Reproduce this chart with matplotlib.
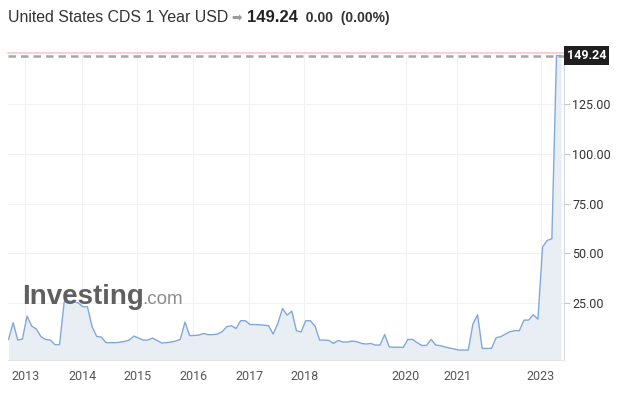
import numpy as np
import matplotlib
matplotlib.use("Agg")
import matplotlib.pyplot as plt

# CDS 1 year, one value per data point (the chart spaces points evenly)
cds = [6.8, 15.2, 6.5, 7.0, 18.5, 13.5, 12.0, 8.2, 6.8, 6.5,
       4.2, 4.2, 25.7, 26.2, 25.7, 25.2, 23.2, 23.2, 13.2, 8.3,
       8.0, 5.2, 5.2, 5.2, 5.4, 5.8, 6.5, 8.5, 7.5, 6.5,
       6.5, 7.5, 6.3, 5.0, 5.2, 5.5, 6.0, 6.8, 15.5, 8.7,
       8.8, 9.0, 9.8, 9.2, 9.2, 9.5, 10.7, 13.2, 13.7, 12.3,
       16.2, 16.2, 14.3, 14.3, 14.2, 14.0, 13.7, 9.5, 14.8, 22.3,
       19.0, 21.0, 11.2, 10.5, 16.2, 16.2, 13.5, 6.5, 6.5, 6.3,
       4.8, 6.3, 5.5, 5.5, 6.0, 5.7, 4.8, 4.5, 4.8, 4.0,
       4.0, 9.3, 3.0, 2.9, 2.9, 2.8, 6.8, 6.8, 5.2, 3.8,
       3.8, 6.8, 4.0, 3.7, 3.0, 2.5, 2.0, 1.5, 1.5, 1.5,
       14.5, 19.2, 2.3, 2.3, 2.3, 7.7, 8.2, 9.5, 10.7, 11.2,
       11.2, 16.5, 16.5, 19.2, 17.0, 53.2, 56.5, 57.3, 149.24, 149.24]
last_value = 149.24

year_labels = ["2013", "2014", "2015", "2016", "2017", "2018", "2020", "2021", "2023"]
year_pos = [3.66, 15.9, 27.7, 39.8, 51.8, 63.7, 85.6, 96.6, 114.6]
y_ticks = [25, 50, 75, 100, 125]

x = np.arange(len(cds))

fig = plt.figure(figsize=(6.17, 3.93), dpi=100)
ax = fig.add_axes([0.013, 0.084, 0.901, 0.786])

ax.fill_between(x, cds, -3.5, color="#e9eef4", lw=0)
ax.plot(x, cds, color="#80a8da", lw=1.0)

ax.set_xlim(-0.1, 119.6)
ax.set_ylim(-3.5, 151.5)

ax.axhline(150.6, color="#f4c8c8", lw=1.2, zorder=1, clip_on=False)
ax.axhline(last_value, color="#a6a6a6", lw=1.8, ls=(0, (3, 2)), zorder=2)

ax.set_xticks(year_pos)
ax.set_xticklabels(year_labels)
ax.set_yticks(y_ticks)
ax.set_yticklabels([f"{v:.2f}" for v in y_ticks])
ax.yaxis.tick_right()
ax.tick_params(axis="y", length=4, width=0.8, color="#c8c8c8", pad=2,
               labelsize=9, labelcolor="#333333")
ax.tick_params(axis="x", length=0, pad=7, labelsize=9, labelcolor="#555555")
for lab in ax.get_xticklabels() + ax.get_yticklabels():
    lab.set_family("Roboto")

ax.grid(True, color="#f1f1f1", lw=0.8)
ax.set_axisbelow(True)
for s in ["top", "left"]:
    ax.spines[s].set_visible(False)
ax.spines["bottom"].set_color("#e6e6e6")
ax.spines["right"].set_color("#d8d8d8")

# last value box
ax.text(1.005, last_value, f"{last_value:.2f}", transform=ax.get_yaxis_transform(),
        ha="left", va="center", fontsize=9, fontweight="bold", color="white",
        family="Roboto",
        bbox=dict(boxstyle="square,pad=0.25", fc="#1f1f1f", ec="none"))

fig.canvas.draw()
r = fig.canvas.get_renderer()

# watermark
w1 = ax.text(0.025, 0.181, "Investing", transform=ax.transAxes, fontsize=20,
             fontweight="bold", color="#5f5f5f", family="Liberation Sans",
             va="baseline", ha="left")
wx = w1.get_window_extent(r).x1 - 1
ax.text(ax.transAxes.inverted().transform((wx, 0))[0], 0.181, ".com",
        transform=ax.transAxes, fontsize=13.5, color="#8c8c8c",
        family="Liberation Sans", va="baseline", ha="left")

# header
parts = [("United States CDS 1 Year USD", 11.4, "normal", "#333333", "Liberation Sans"),
         (" \u27a1 ", 9, "normal", "#9a9a9a", "DejaVu Sans"),
         ("149.24", 12, "bold", "#222222", "Liberation Sans"),
         ("  0.00", 10, "bold", "#333333", "Liberation Sans"),
         ("  (0.00%)", 10, "bold", "#333333", "Liberation Sans")]
xpix = 8
for txt, fs, fw, col, fam in parts:
    t = fig.text(xpix / 617, 1 - 18 / 393, txt, fontsize=fs, fontweight=fw,
                 color=col, family=fam, va="center", ha="left")
    xpix += t.get_window_extent(r).width

fig.savefig("out.png", dpi=100)
